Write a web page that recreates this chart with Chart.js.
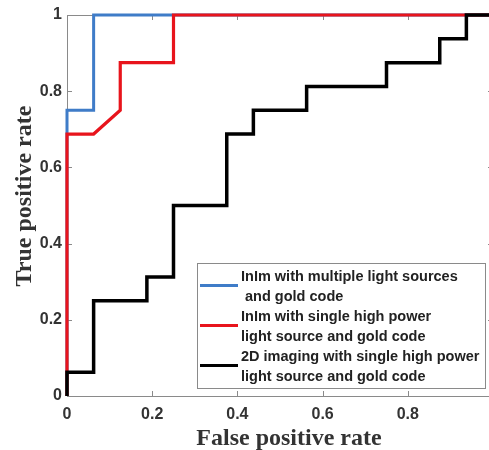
<!DOCTYPE html>
<html>
<head>
<meta charset="utf-8">
<script src="https://cdn.jsdelivr.net/npm/chart.js@4/dist/chart.umd.min.js"></script>
<style>
  html, body { margin: 0; padding: 0; background: #fff; overflow: hidden; }
  #wrap { width: 496px; height: 450px; }
</style>
</head>
<body>
<div id="wrap"><canvas id="roc" width="496" height="450"></canvas></div>
<script>
// ROC curves (steps of 1/16)
const fprMulti = [0, 0, 0.0625, 0.0625, 1];
const tprMulti = [0, 0.75, 0.75, 1, 1];

const fprSingle = [0, 0, 0.0625, 0.125, 0.125, 0.25, 0.25, 1];
const tprSingle = [0, 0.6875, 0.6875, 0.75, 0.875, 0.875, 1, 1];

const fpr2D = [0, 0, 0.0625, 0.0625, 0.1875, 0.1875, 0.25, 0.25, 0.375, 0.375, 0.4375, 0.4375,
               0.5625, 0.5625, 0.75, 0.75, 0.875, 0.875, 0.9375, 0.9375, 1];
const tpr2D = [0, 0.0625, 0.0625, 0.25, 0.25, 0.3125, 0.3125, 0.5, 0.5, 0.6875, 0.6875, 0.75,
               0.75, 0.8125, 0.8125, 0.875, 0.875, 0.9375, 0.9375, 1, 1];

const xTicks = [0, 0.2, 0.4, 0.6, 0.8, 1];
const yTicks = [0, 0.2, 0.4, 0.6, 0.8, 1];

const legendLines = [
    ['InIm with multiple light sources', ' and gold code'],
    ['InIm with single high power', 'light source and gold code'],
    ['2D imaging with single high power', 'light source and gold code']
];

const xTitle = 'False positive rate';
const yTitle = 'True positive rate';

const toPoints = (xs, ys) => xs.map((x, i) => ({ x: x, y: ys[i] }));

const tickFont = { family: '"Liberation Sans", Arial, sans-serif', size: 16, weight: 'bold' };
const axisGray = '#8a8a8a';

// box, inner ticks (MATLAB style), axis titles and the legend
const framePlugin = {
    id: 'frame',
    beforeDatasetsDraw(chart) {
        const { ctx, chartArea: a } = chart;
        const xs = chart.scales.x, ys = chart.scales.y;
        ctx.save();
        ctx.strokeStyle = axisGray;
        ctx.lineWidth = 1;
        ctx.strokeRect(a.left + 0.5, a.top + 0.5, a.right - a.left, a.bottom - a.top);
        ctx.beginPath();
        xTicks.forEach(v => {
            const px = Math.round(xs.getPixelForValue(v)) + 0.5;
            ctx.moveTo(px, a.bottom); ctx.lineTo(px, a.bottom - 5);
            ctx.moveTo(px, a.top); ctx.lineTo(px, a.top + 5);
        });
        yTicks.forEach(v => {
            const py = Math.round(ys.getPixelForValue(v)) + 0.5;
            ctx.moveTo(a.left, py); ctx.lineTo(a.left + 5, py);
            ctx.moveTo(a.right, py); ctx.lineTo(a.right - 5, py);
        });
        ctx.stroke();
        ctx.restore();
    },
    afterDraw(chart) {
        const { ctx } = chart;
        ctx.save();
        // axis titles
        ctx.fillStyle = '#333';
        ctx.font = 'bold 24px "Liberation Serif", "Times New Roman", serif';
        ctx.textAlign = 'center';
        ctx.textBaseline = 'alphabetic';
        ctx.fillText(xTitle, 289, 445);
        ctx.translate(31, 196);
        ctx.rotate(-Math.PI / 2);
        ctx.fillText(yTitle, 0, 0);
        ctx.restore();

        // legend box
        ctx.save();
        ctx.fillStyle = '#fff';
        ctx.fillRect(197, 263, 288, 125);
        ctx.strokeStyle = axisGray;
        ctx.lineWidth = 1;
        ctx.strokeRect(197.5, 263.5, 288, 125);
        ctx.font = 'bold 14.5px "Liberation Sans", Arial, sans-serif';
        ctx.textAlign = 'left';
        ctx.textBaseline = 'middle';
        chart.data.datasets.forEach((ds, i) => {
            const y0 = 277 + i * 40;
            ctx.strokeStyle = ds.borderColor;
            ctx.lineWidth = 3;
            ctx.beginPath();
            ctx.moveTo(200, y0 + 8.5);
            ctx.lineTo(238, y0 + 8.5);
            ctx.stroke();
            ctx.fillStyle = '#222';
            legendLines[i].forEach((t, j) => ctx.fillText(t, 241, y0 + j * 20));
        });
        ctx.restore();
    }
};

new Chart(document.getElementById('roc'), {
    type: 'line',
    data: {
        datasets: [
            {
                label: legendLines[0].join(''),
                data: toPoints(fprMulti, tprMulti),
                borderColor: '#3f7cc8',
                borderWidth: 3,
                order: 3
            },
            {
                label: legendLines[1].join(' '),
                data: toPoints(fprSingle, tprSingle),
                borderColor: '#e8141c',
                borderWidth: 3.2,
                order: 2
            },
            {
                label: legendLines[2].join(' '),
                data: toPoints(fpr2D, tpr2D),
                borderColor: '#000',
                borderWidth: 3.5,
                order: 1
            }
        ]
    },
    options: {
        responsive: false,
        animation: false,
        layout: { padding: { top: 15, right: 3, left: 0, bottom: 0 } },
        elements: {
            point: { radius: 0 },
            line: { tension: 0, borderJoinStyle: 'miter', borderCapStyle: 'butt' }
        },
        datasets: { line: { clip: false } },
        plugins: {
            legend: { display: false },
            tooltip: { enabled: false }
        },
        scales: {
            x: {
                type: 'linear',
                min: 0,
                max: 1,
                grid: { display: false, drawTicks: false },
                border: { display: false },
                afterBuildTicks: s => { s.ticks = xTicks.map(v => ({ value: v })); },
                ticks: {
                    font: tickFont,
                    color: '#333',
                    padding: 9,
                    maxRotation: 0,
                    callback: v => String(v)
                },
                afterFit: s => { s.height = 54; s.paddingLeft = 0; s.paddingRight = 0; }
            },
            y: {
                type: 'linear',
                min: 0,
                max: 1,
                grid: { display: false, drawTicks: false },
                border: { display: false },
                afterBuildTicks: s => { s.ticks = yTicks.map(v => ({ value: v })); },
                ticks: {
                    font: tickFont,
                    color: '#333',
                    padding: 5,
                    callback: v => String(v)
                },
                afterFit: s => { s.width = 67; s.paddingTop = 0; s.paddingBottom = 0; }
            }
        }
    },
    plugins: [framePlugin]
});
</script>
</body>
</html>
